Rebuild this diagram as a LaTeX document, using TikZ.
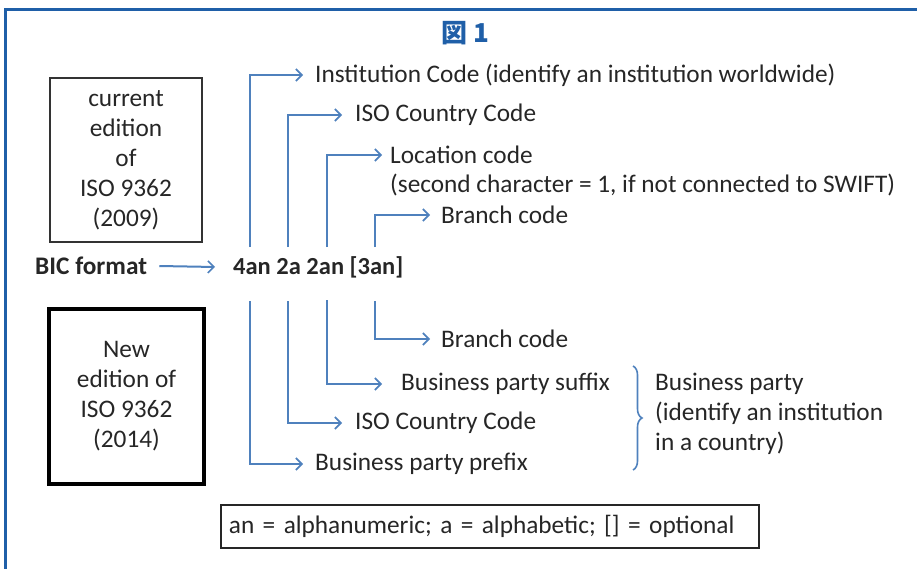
\documentclass[tikz,border=0pt]{standalone}
\usepackage{fontspec}
\setmainfont{Carlito}
\newfontfamily\cjk{Noto Sans CJK JP}
\usetikzlibrary{arrows.meta,decorations.pathreplacing,positioning}

\definecolor{figblue}{HTML}{1F5FA8}
\definecolor{linkblue}{HTML}{4F81BD}

\begin{document}
\begin{tikzpicture}[x=1pt,y=-1pt,
    txt/.style={text=black!85,font=\fontsize{25.3}{30}\selectfont,inner sep=0pt},
    lbl/.style={txt,anchor=west},
    link/.style={linkblue,line width=2pt,-{Straight Barb[length=6pt,width=12pt,line width=1.6pt]}},
    edbox/.style={draw,txt,align=center}]
  \useasboundingbox (0,0) rectangle (917,569);
  \draw[figblue,line width=3pt] (5,580) |- (930,10);

  \node(title) at (465,33) [text=figblue,font=\cjk\bfseries\fontsize{26}{30}\selectfont] {図 1};

  % the two editions of the standard
  \node(old) at (126,160) [edbox,draw=black!80,line width=1.8pt,minimum width=152pt,minimum height=164pt]
       {current\\edition\\of\\ISO 9362\\(2009)};
  \node(new) at (126.5,396.5) [edbox,draw=black,line width=4pt,minimum width=155pt,minimum height=175pt]
       {New\\edition of\\ISO 9362\\(2014)};

  \node(bic) at (35,266) [lbl,font=\bfseries\fontsize{25.3}{30}\selectfont] {BIC format};
  \node(fmt) at (233,267) [lbl,font=\bfseries\fontsize{24.5}{30}\selectfont] {4an 2a 2an [3an]};
  \draw[link] ([xshift=12pt]bic.east) -- ([xshift=-18pt]fmt.west);

  \coordinate(u1) at (250,247);
  \coordinate(u2) at (288,247);
  \coordinate(u3) at (327,247);
  \coordinate(u4) at (375,247);
  \coordinate(d1) at (250,301);
  \coordinate(d2) at (288,301);
  \coordinate(d3) at (327,300);
  \coordinate(d4) at (375,301);

  % current meaning
  \node(inst) at (315,75) [lbl] {Institution Code (identify an institution worldwide)};
  \node(iso) at (355,115) [lbl] {ISO Country Code};
  \node(loc) at (390,155) [lbl] {Location code};
  \node(locnote) at (390,185) [lbl] {(second character = 1, if not connected to SWIFT)};
  \node(branch) at (441,215) [lbl] {Branch code};

  \draw[link] (u1) |- ([xshift=-12pt]inst.west);
  \draw[link] (u2) |- ([xshift=-13pt]iso.west);
  \draw[link] (u3) |- ([xshift=-8pt]loc.west);
  \draw[link] (u4) |- ([xshift=-11pt]branch.west);

  % new meaning
  \node(branchnew) at (441,339) [lbl] {Branch code};
  \node(suffix) at (401,384) [lbl] {Business party suffix};
  \node(isonew) at (355,423) [lbl] {ISO Country Code};
  \node(prefix) at (315,464) [lbl] {Business party prefix};

  \draw[link] (d4) |- ([xshift=-11pt]branchnew.west);
  \draw[link] (d3) |- ([xshift=-19pt]suffix.west);
  \draw[link] (d2) |- ([xshift=-13pt]isonew.west);
  \draw[link] (d1) |- ([xshift=-12pt]prefix.west);

  \draw[linkblue,line width=1.6pt,decorate,decoration={brace,amplitude=9pt}] (633,366) -- (633,470);
  \node(party) at (655,414) [lbl,align=left] {Business party\\(identify an institution\\in a country)};

  \node(key) at (220,526.5) [txt,anchor=west,draw=black!85,line width=1.8pt,inner xsep=8pt,
       text width=522pt,minimum height=43pt,align=left]
       {an = alphanumeric; a = alphabetic; [] = optional};
\end{tikzpicture}
\end{document}
